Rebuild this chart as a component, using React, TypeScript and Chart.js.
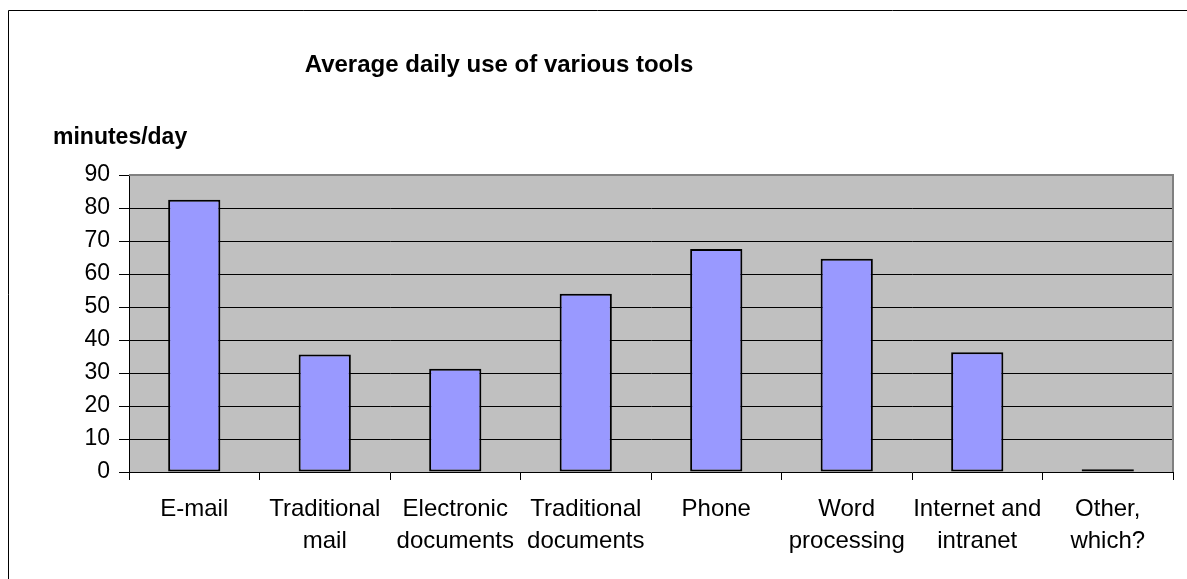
import React, { useEffect, useRef } from "react";
import { Chart, registerables } from "chart.js";

Chart.register(...registerables);

// Chart content
const TITLE = "Average daily use of various tools";
const Y_TITLE = "minutes/day";
const CATEGORIES: (string | string[])[] = [
  "E-mail",
  ["Traditional", "mail"],
  ["Electronic", "documents"],
  ["Traditional", "documents"],
  "Phone",
  ["Word", "processing"],
  ["Internet and", "intranet"],
  ["Other,", "which?"],
];
const MINUTES = [82.5, 35.6, 31.3, 54, 67.6, 64.6, 36.3, 0.8];
const Y_MIN = 0;
const Y_MAX = 90;
const Y_STEP = 10;

const FONT = '"Liberation Sans", Arial, Helvetica, sans-serif';
const W = 1187;
const H = 579;

// Plot background, plot frame, outer frame and the two headings
const decorPlugin = {
  id: "decor",
  beforeDraw(chart: any) {
    const { ctx, chartArea: a } = chart;
    ctx.save();
    ctx.fillStyle = "#C0C0C0";
    ctx.fillRect(a.left, a.top, a.right - a.left, a.bottom - a.top);
    ctx.restore();
  },
  afterDraw(chart: any) {
    const { ctx, chartArea: a } = chart;
    ctx.save();
    ctx.strokeStyle = "#808080";
    ctx.lineWidth = 2;
    ctx.beginPath();
    ctx.moveTo(a.left, a.top);
    ctx.lineTo(a.right, a.top);
    ctx.lineTo(a.right, a.bottom);
    ctx.stroke();

    ctx.strokeStyle = "#000";
    ctx.lineWidth = 1;
    ctx.beginPath();
    ctx.moveTo(8.5, H);
    ctx.lineTo(8.5, 10.5);
    ctx.lineTo(W, 10.5);
    ctx.stroke();

    ctx.fillStyle = "#000";
    ctx.textBaseline = "alphabetic";
    ctx.font = `bold 24px ${FONT}`;
    ctx.textAlign = "center";
    ctx.fillText(TITLE, 499, 72);
    ctx.font = `bold 23px ${FONT}`;
    ctx.textAlign = "left";
    ctx.fillText(Y_TITLE, 53, 144);
    ctx.restore();
  },
};

export default function App() {
  const ref = useRef<HTMLCanvasElement | null>(null);

  useEffect(() => {
    if (!ref.current) return;
    const chart = new Chart(ref.current, {
      type: "bar",
      data: {
        labels: CATEGORIES,
        datasets: [
          {
            data: MINUTES,
            backgroundColor: "#9999FF",
            borderColor: "#000000",
            borderWidth: 2,
            borderSkipped: false,
            barPercentage: 0.4,
            categoryPercentage: 1.0,
          },
        ],
      },
      options: {
        animation: false,
        responsive: false,
        devicePixelRatio: 1,
        layout: { padding: { top: 175, right: 14, left: 0, bottom: 0 } },
        plugins: {
          legend: { display: false },
          title: { display: false },
          tooltip: { enabled: false },
        },
        scales: {
          x: {
            grid: {
              display: true,
              drawOnChartArea: false,
              drawTicks: true,
              tickLength: 8,
              tickColor: "#000",
              offset: true,
            },
            border: { display: true, color: "#000", width: 1 },
            ticks: {
              color: "#000",
              font: { family: FONT, size: 24, lineHeight: 1.35 },
              maxRotation: 0,
              minRotation: 0,
              autoSkip: false,
              padding: 13,
            },
            afterFit(scale: any) {
              scale.height = 107;
            },
          },
          y: {
            min: Y_MIN,
            max: Y_MAX,
            ticks: {
              stepSize: Y_STEP,
              color: "#000",
              font: { family: FONT, size: 23 },
              padding: 9,
            },
            grid: {
              color: (c: any) =>
                c.tick && (c.tick.value === Y_MIN || c.tick.value === Y_MAX)
                  ? "rgba(0,0,0,0)"
                  : "#000",
              lineWidth: 1,
              tickColor: "#000",
              tickLength: 10,
            },
            border: { display: true, color: "#000", width: 1 },
            afterFit(scale: any) {
              scale.width = 129;
            },
          },
        },
      },
      plugins: [decorPlugin],
    });
    return () => chart.destroy();
  }, []);

  return (
    <canvas
      ref={ref}
      width={W}
      height={H}
      style={{ position: "absolute", left: 0, top: 0, width: `${W}px`, height: `${H}px` }}
    />
  );
}
